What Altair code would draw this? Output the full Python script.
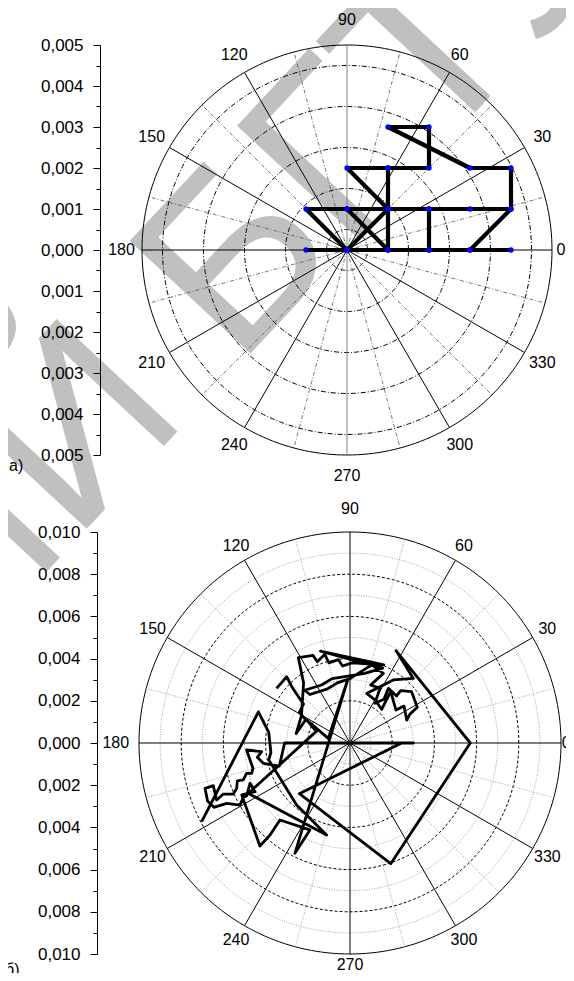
import numpy as np
import pandas as pd
import altair as alt

# ---------------- values ----------------
# a) trajectory (x / y components), in the order the line is drawn
a_x = [-0.001, 0.0, 0.001, 0.002, 0.003, 0.004, 0.003, 0.004, 0.004, 0.003,
       0.001, 0.002, 0.002, 0.001, 0.0, 0.001, 0.0, -0.001, 0.0, 0.001,
       0.0, 0.001, 0.001, 0.001, 0.002, 0.002, 0.002, 0.003, 0.004]
a_y = [0.0, 0.0, 0.0, 0.0, 0.0, 0.0, 0.0, 0.001, 0.002, 0.002,
       0.003, 0.003, 0.002, 0.002, 0.002, 0.001, 0.0, 0.001, 0.001, 0.001,
       0.001, 0.0, 0.002, 0.001, 0.001, 0.0, 0.001, 0.001, 0.001]

# b) trajectory (x / y components)
b_x = [-0.00348, -0.00300, -0.00276, -0.00245, -0.00220, -0.00240, -0.00210, -0.00255, -0.00230, -0.00220,
       -0.00245, -0.00175, -0.00155, -0.00120, -0.00100, -0.00055, -0.00035, 0.00010, 0.00160, -0.00140,
       0.00155, 0.00070, -0.00025, -0.00085, -0.00135, -0.00215, -0.00190, -0.00110, -0.00060, 0.00000,
       0.00103, 0.00158, 0.00098, 0.00142, 0.00118, 0.00161, 0.00182, 0.00221, 0.00240, 0.00292,
       0.00319, 0.00284, 0.00269, 0.00256, 0.00218, 0.00193, 0.00150, 0.00118, 0.00079, 0.00205,
       0.00300, 0.00218, 0.00570, 0.00193, -0.00240, 0.00245, 0.00300, -0.00310, -0.00335, -0.00411,
       -0.00439, -0.00419, -0.00490, -0.00460, -0.00466, -0.00490, -0.00506, -0.00534, -0.00537, -0.00553,
       -0.00600, -0.00632, -0.00648, -0.00687, -0.00675, -0.00645, -0.00585, -0.00521, -0.00506, -0.00490,
       -0.00474, -0.00450, -0.00513, -0.00427, -0.00379, -0.00332, -0.00190, -0.00261, -0.00012, -0.00103,
       -0.00205, -0.00160, -0.00482, -0.00111, -0.00253, -0.00385, -0.00375, -0.00385, -0.00434, -0.00703]
b_y = [0.00259, 0.00314, 0.00267, 0.00220, 0.00185, 0.00145, 0.00110, 0.00045, 0.00130, 0.00285,
       0.00405, 0.00415, 0.00385, 0.00420, 0.00380, 0.00395, 0.00365, 0.00380, 0.00370, 0.00435,
       0.00355, 0.00330, 0.00315, 0.00305, 0.00275, 0.00250, 0.00230, 0.00255, 0.00285, 0.00305,
       0.00370, 0.00330, 0.00275, 0.00259, 0.00188, 0.00207, 0.00259, 0.00223, 0.00248, 0.00243,
       0.00169, 0.00137, 0.00109, 0.00175, 0.00156, 0.00243, 0.00160, 0.00204, 0.00235, 0.00299,
       0.00306, 0.00438, 0.00000, -0.00572, -0.00240, 0.00000, 0.00000, 0.00000, -0.00110, -0.00096,
       -0.00068, -0.00041, -0.00033, -0.00120, -0.00144, -0.00144, -0.00175, -0.00179, -0.00215, -0.00242,
       -0.00242, -0.00270, -0.00202, -0.00215, -0.00275, -0.00305, -0.00286, -0.00294, -0.00258, -0.00251,
       -0.00191, -0.00231, -0.00246, -0.00488, -0.00436, -0.00365, -0.00412, -0.00523, 0.00296, 0.00022,
       0.00109, 0.00055, -0.00239, -0.00436, -0.00294, -0.00080, -0.00045, 0.00050, 0.00148, -0.00373]

# polar grid / axis description
angle_labels = ["0", "30", "60", "90", "120", "150", "180", "210", "240", "270", "300", "330"]
major_angles = [0, 30, 60, 90, 120, 150, 180, 210, 240, 270, 300, 330]
minor_angles = [15, 45, 75, 105, 135, 165, 195, 225, 255, 285, 315, 345]
a_outer = 0.005
a_rings = [0.0005, 0.0015, 0.0025, 0.0035, 0.0045]
a_ticks = [-0.005, -0.0045, -0.004, -0.0035, -0.003, -0.0025, -0.002, -0.0015, -0.001, -0.0005, 0.0,
           0.0005, 0.001, 0.0015, 0.002, 0.0025, 0.003, 0.0035, 0.004, 0.0045, 0.005]
b_outer = 0.010
b_dashed = [0.002, 0.004, 0.006, 0.008]
b_dotted = [0.001, 0.003, 0.005, 0.007, 0.009]
b_ticks = [-0.010, -0.009, -0.008, -0.007, -0.006, -0.005, -0.004, -0.003, -0.002, -0.001, 0.0,
           0.001, 0.002, 0.003, 0.004, 0.005, 0.006, 0.007, 0.008, 0.009, 0.010]

FONT = "Liberation Sans"


def circles(radii):
    t = np.linspace(0, 2 * np.pi, 241)
    rows = []
    for k, r in enumerate(radii):
        for i, a in enumerate(t):
            rows.append({"ring": k, "i": i, "x": r * np.cos(a), "y": r * np.sin(a)})
    return pd.DataFrame(rows)


def spokes(angles, r):
    rad = np.deg2rad(angles)
    return pd.DataFrame({"x": 0.0, "y": 0.0, "xe": r * np.cos(rad), "ye": r * np.sin(rad)})


def labels(r, special):
    radii = np.array([special.get(a, r) for a in major_angles])
    rad = np.deg2rad(major_angles)
    return pd.DataFrame({"x": radii * np.cos(rad), "y": radii * np.sin(rad), "label": angle_labels})


def polar_panel(px, py, outer, ring_styles, major_color, minor_style, label_r, axis, path_x, path_y,
                path_width, show_points):
    X = alt.X("x:Q", scale=px, axis=None)
    Y = alt.Y("y:Q", scale=py, axis=axis)
    layers = []
    for radii, dash, color, width in ring_styles:
        layers.append(
            alt.Chart(circles(radii)).mark_line(color=color, strokeWidth=width, strokeDash=dash)
            .encode(x=X, y=Y, detail="ring:N", order="i:Q"))
    layers.append(alt.Chart(circles([outer])).mark_line(color="black", strokeWidth=1)
                  .encode(x=X, y=Y, detail="ring:N", order="i:Q"))
    mdash, mcolor, mwidth = minor_style
    layers.append(alt.Chart(spokes(minor_angles, outer))
                  .mark_rule(color=mcolor, strokeWidth=mwidth, strokeDash=mdash)
                  .encode(x=X, y=Y, x2="xe:Q", y2="ye:Q"))
    sp = spokes(major_angles, outer)
    sp["c"] = ["v" if a in (90, 270) else "m" for a in major_angles]
    layers.append(alt.Chart(sp).mark_rule(strokeWidth=1)
                  .encode(x=X, y=Y, x2="xe:Q", y2="ye:Q",
                          color=alt.Color("c:N", scale=alt.Scale(domain=["m", "v"], range=["black", major_color]),
                                          legend=None)))
    layers.append(alt.Chart(labels(*label_r)).mark_text(font=FONT, fontSize=16, color="black")
                  .encode(x=X, y=Y, text="label:N"))
    path = pd.DataFrame({"x": path_x, "y": path_y, "i": range(len(path_x))})
    layers.append(alt.Chart(path).mark_line(color="black", strokeWidth=path_width, strokeJoin="round")
                  .encode(x=X, y=Y, order="i:Q"))
    if show_points:
        layers.append(alt.Chart(path).mark_circle(color="#0000ff", size=28, opacity=1)
                      .encode(x=X, y=Y))
    return alt.layer(*layers)


def radial_axis(values, offset, step_factor):
    test = f"round(datum.value*{step_factor}) % 2 == 0"
    return alt.Axis(
        values=values, orient="left", offset=offset, title=None, grid=False, zindex=2,
        labelExpr=f"{test} ? replace(format(abs(datum.value), '.3f'), '.', ',') : ''",
        tickSize={"condition": {"test": test, "value": 7}, "value": 4},
        labelFont=FONT, labelFontSize=17, labelColor="black", labelPadding=10,
        domainColor="black", tickColor="black", domainWidth=1, tickWidth=1,
        labelFlush=False, labelOverlap=False)


# ---- panel a)
sxa = alt.Scale(domain=[-0.005, 0.005], range=[134, 544], nice=False, zero=False)
sya = alt.Scale(domain=[-0.005, 0.005], range=[447, 37], nice=False, zero=False)
panel_a = polar_panel(
    sxa, sya, a_outer,
    [(a_rings, [5, 2, 1, 2], "black", 1)],
    "#808080", ([4, 2, 1, 2], "#555555", 0.8), (0.0055, {0: 0.00522, 90: 0.0056}),
    radial_axis(a_ticks, -92, 2000), a_x, a_y, 4.2, True)

# ---- panel b)
sxb = alt.Scale(domain=[-0.010, 0.010], range=[131, 553], nice=False, zero=False)
syb = alt.Scale(domain=[-0.010, 0.010], range=[946, 524], nice=False, zero=False)
panel_b = polar_panel(
    sxb, syb, b_outer,
    [(b_dotted, [1, 1.5], "#8c8c8c", 0.8), (b_dashed, [3, 2], "black", 1)],
    "black", ([1, 1.5], "#8c8c8c", 0.8), (0.0108, {0: 0.01025, 90: 0.0111, 180: 0.0111, 270: 0.0105}),
    radial_axis(b_ticks, -89, 1000), b_x, b_y, 2.8, False)

# ---- panel letters and watermark
tag_a = alt.Chart(pd.DataFrame({"t": ["а)"]})).mark_text(
    font=FONT, fontSize=16, align="left", baseline="middle").encode(
    text="t:N", x=alt.value(1), y=alt.value(458))
tag_b = alt.Chart(pd.DataFrame({"t": ["б)"]})).mark_text(
    font=FONT, fontSize=16, align="left", baseline="middle").encode(
    text="t:N", x=alt.value(-3), y=alt.value(962))
wm1 = alt.Chart(pd.DataFrame({"t": ["БГТУ"]})).mark_text(
    font=FONT, fontSize=240, angle=313, align="left", baseline="alphabetic", color="#c0c0c0").encode(
    text="t:N", x=alt.value(229), y=alt.value(360))
wm2 = alt.Chart(pd.DataFrame({"t": ["РЕПОЗИТОРИЙ"]})).mark_text(
    font=FONT, fontSize=240, angle=313, align="right", baseline="alphabetic", color="#c0c0c0").encode(
    text="t:N", x=alt.value(183), y=alt.value(409))

chart = alt.layer(wm1, wm2, panel_a, panel_b, tag_a, tag_b).resolve_scale(
    x="independent", y="independent", color="independent"
).properties(width=558, height=965, padding=0, autosize="none", background="white"
).configure_view(strokeWidth=0)

chart.save("out.html", embed_options={"renderer": "svg", "actions": False})
